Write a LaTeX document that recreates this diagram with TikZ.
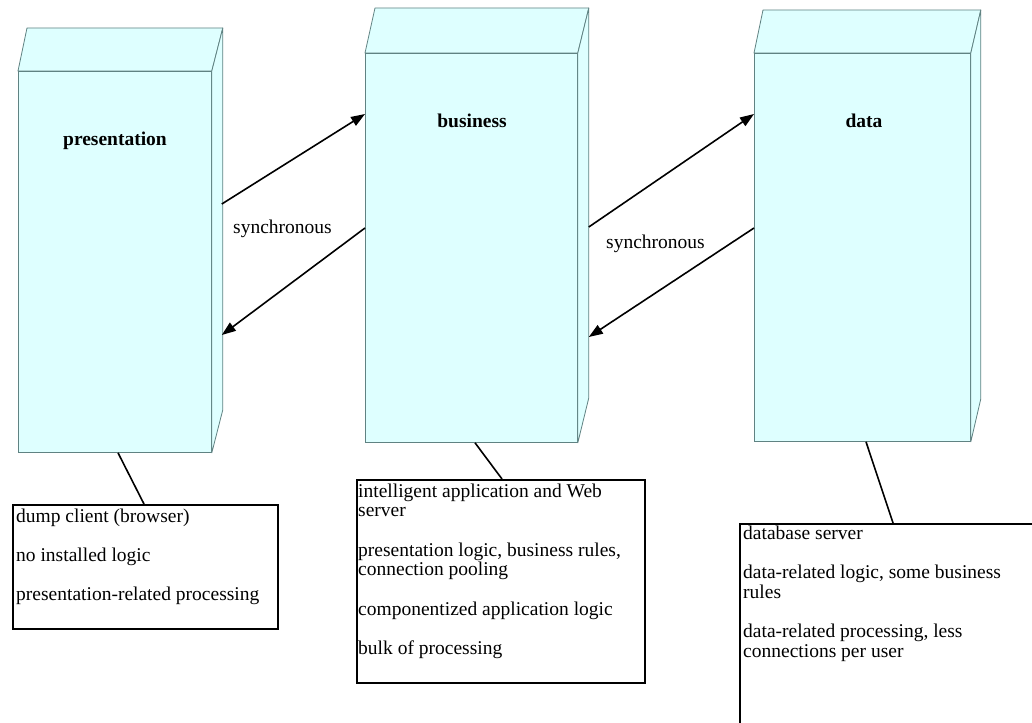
\documentclass[tikz,border=0pt]{standalone}
\usepackage{fontspec}
\setmainfont{Liberation Serif}
\usetikzlibrary{arrows.meta}
\definecolor{boxc}{RGB}{222,255,255}
\definecolor{edgec}{RGB}{96,130,130}
\tikzset{
  face/.style={draw=edgec, fill=boxc, line width=0.8pt, inner sep=0pt, anchor=north west},
  facepoly/.style={draw=edgec, fill=boxc, line width=0.8pt, line join=round},
  title/.style={font=\bfseries\fontsize{19.5}{19.7}\selectfont, anchor=base, inner sep=0pt},
  lbl/.style={font=\fontsize{19.5}{19.7}\selectfont, anchor=base west, inner sep=0pt},
  note/.style={draw=black, line width=1.6pt, fill=white, anchor=north west, inner sep=0pt},
  notetext/.style={font=\fontsize{19.5}{19.7}\selectfont, align=left, anchor=north west, inner sep=0pt},
  flow/.style={line width=1.6pt, -{Triangle[length=14pt,width=10pt]}},
  tie/.style={line width=1.6pt}
}
\begin{document}
\begin{tikzpicture}[x=1pt,y=-1pt]
\useasboundingbox (0,0) rectangle (1032,722);
\clip (0,0) rectangle (1032,722);
\fill[white] (0,0) rectangle (1032,722);

% presentation tier
\node[face, minimum width=193pt, minimum height=381pt] (pres) at (18,71) {};
\draw[facepoly] (pres.north west) -- ++(9,-43) -- ([shift={(11,-43)}]pres.north east) -- (pres.north east) -- cycle;
\draw[facepoly] (pres.north east) -- ++(11,-43) -- ([shift={(11,-43)}]pres.south east) -- (pres.south east) -- cycle;
\node[title] (prestitle) at (115,146) {presentation};

% business tier
\node[face, minimum width=212pt, minimum height=389pt] (bus) at (365,53) {};
\draw[facepoly] (bus.north west) -- ++(10,-45) -- ([shift={(11,-45)}]bus.north east) -- (bus.north east) -- cycle;
\draw[facepoly] (bus.north east) -- ++(11,-45) -- ([shift={(11,-45)}]bus.south east) -- (bus.south east) -- cycle;
\node[title] (bustitle) at (472,128) {business};

% data tier
\node[face, minimum width=216pt, minimum height=388pt] (dat) at (754,53) {};
\draw[facepoly] (dat.north west) -- ++(9,-43) -- ([shift={(10,-43)}]dat.north east) -- (dat.north east) -- cycle;
\draw[facepoly] (dat.north east) -- ++(10,-43) -- ([shift={(10,-43)}]dat.south east) -- (dat.south east) -- cycle;
\node[title] (dattitle) at (864,128) {data};

% arrows
\draw[flow] ([shift={(10,133)}]pres.north east) -- ([shift={(0,61)}]bus.north west);
\draw[flow] ([shift={(0,175)}]bus.north west) -- ([shift={(10,264)}]pres.north east);
\draw[flow] ([shift={(11,174)}]bus.north east) -- ([shift={(0,61)}]dat.north west);
\draw[flow] ([shift={(0,175)}]dat.north west) -- ([shift={(11,284)}]bus.north east);
\node[lbl] (sync1) at (233,233) {synchronous};
\node[lbl] (sync2) at (606,248) {synchronous};

% notes
\node[note, minimum width=265pt, minimum height=124pt] (n1) at (12,504) {};
\node[notetext] (n1t) at (16,508.2) {\strut dump client (browser)\\[19.7pt]
no installed logic\\[19.7pt]
presentation-related processing};

\node[note, minimum width=288pt, minimum height=203pt] (n2) at (356,479) {};
\node[notetext] (n2t) at (358,483.2) {\strut intelligent application and Web\\
server\\[19.7pt]
presentation logic, business rules,\\
connection pooling\\[19.7pt]
componentized application logic\\[19.7pt]
bulk of processing};

\node[note, minimum width=330pt, minimum height=230pt] (n3) at (739,523) {};
\node[notetext] (n3t) at (743,525.2) {\strut database server\\[19.7pt]
data-related logic, some business\\
rules\\[19.7pt]
data-related processing, less\\
connections per user};

% ties
\draw[tie] ([xshift=100pt]pres.south west) -- ([xshift=132pt]n1.north west);
\draw[tie] ([xshift=110pt]bus.south west) -- ([xshift=146pt]n2.north west);
\draw[tie] ([xshift=112pt]dat.south west) -- ([xshift=154pt]n3.north west);
\end{tikzpicture}
\end{document}
